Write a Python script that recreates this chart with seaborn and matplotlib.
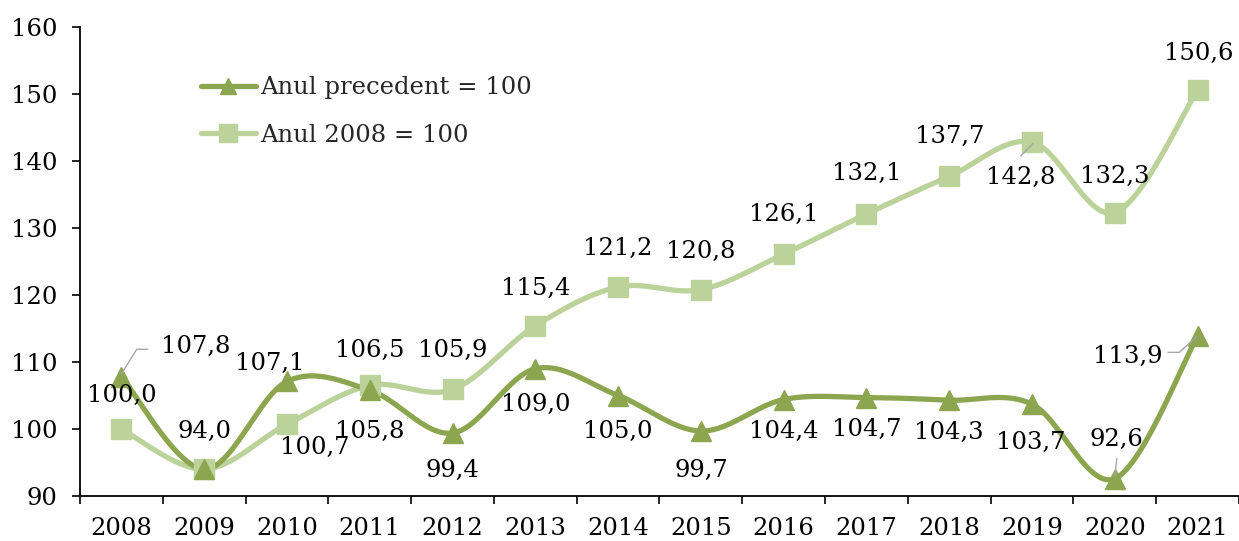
import numpy as np
import pandas as pd
import seaborn as sns
import matplotlib
matplotlib.use('Agg')
import matplotlib.pyplot as plt
from matplotlib.lines import Line2D

years = ["2008", "2009", "2010", "2011", "2012", "2013", "2014",
         "2015", "2016", "2017", "2018", "2019", "2020", "2021"]
prev_year = [107.8, 94.0, 107.1, 105.8, 99.4, 109.0, 105.0,
             99.7, 104.4, 104.7, 104.3, 103.7, 92.6, 113.9]
base_2008 = [100.0, 94.0, 100.7, 106.5, 105.9, 115.4, 121.2,
             120.8, 126.1, 132.1, 137.7, 142.8, 132.3, 150.6]
series_names = ["Anul precedent = 100", "Anul 2008 = 100"]

# label offsets in pixels (dx, dy) relative to the point
prev_offsets = [(74, 30), (0, 38), (-17, 18), (0, -41), (0, -37), (0, -36), (0, -36),
                (0, -39), (0, -32), (0, -32), (0, -32), (-1, -38), (2, 39), (-70, -21)]
base_offsets = [(0, 34), None, (28, -23), (0, 35), (0, 39), (0, 37), (0, 38),
                (0, 38), (0, 40), (0, 40), (0, 40), (-11, -35), (0, 36), (1, 37)]
prev_leaders = {0: [(0, 3), (15, 30), (26, 30)], 12: [(0, 3), (2, 22)],
                13: [(-1, -1), (-18, -18), (-29, -18)]}
base_leaders = {11: [(1, -1), (-11, -15)]}

dark = "#8CA650"
light = "#BBD29A"

sns.set_theme(style="white")
plt.rcParams['font.family'] = ['DejaVu Serif']


def smooth(y, n=30):
    # Excel-like bezier smoothing
    x = np.arange(len(y), dtype=float)
    pts = np.column_stack([x, np.asarray(y, dtype=float)])
    p = np.vstack([pts[0], pts, pts[-1]])
    out = []
    t = np.linspace(0, 1, n)[:, None]
    for i in range(1, len(p) - 2):
        p0, p3 = p[i], p[i + 1]
        p1 = p0 + (p[i + 1] - p[i - 1]) / 6
        p2 = p3 - (p[i + 2] - p[i]) / 6
        seg = ((1 - t) ** 3) * p0 + 3 * ((1 - t) ** 2) * t * p1 + 3 * (1 - t) * t ** 2 * p2 + t ** 3 * p3
        out.append(seg)
    out = np.vstack(out)
    return out[:, 0], out[:, 1]


fig = plt.figure(figsize=(12.39, 5.41), dpi=100)
ax = fig.add_axes([80 / 1239, 45 / 541, 1159 / 1239, 469 / 541])

xs = np.arange(len(years))
for vals, color, marker, ms in [(base_2008, light, "s", 15), (prev_year, dark, "^", 14)]:
    sx, sy = smooth(vals)
    sm = pd.DataFrame({"x": sx, "y": sy})
    sns.lineplot(data=sm, x="x", y="y", sort=False, color=color, lw=3.8, ax=ax, zorder=2)
    ax.plot(xs, vals, ls="none", marker=marker, ms=ms, color=color, mec=color, zorder=3)

# data labels
for vals, offs, leaders in [(prev_year, prev_offsets, prev_leaders), (base_2008, base_offsets, base_leaders)]:
    for i, v in enumerate(vals):
        if offs[i] is None:
            continue
        ax.annotate(f"{v:.1f}".replace(".", ","), (i, v), xytext=offs[i],
                    textcoords="offset pixels", ha="center", va="center",
                    fontsize=17.5, color="black", zorder=5)
        if i in leaders:
            pts = leaders[i]
            x0, y0 = ax.transData.transform((i, v))
            px = [x0 + dx for dx, dy in pts]
            py = [y0 + dy for dx, dy in pts]
            dpts = ax.transData.inverted().transform(np.column_stack([px, py]))
            ax.plot(dpts[:, 0], dpts[:, 1], color="#A6A6A6", lw=1.0, zorder=4)

ax.set_xlim(-0.5, 13.4)
ax.set_ylim(90, 160)
ax.set_yticks(range(90, 161, 10))
ax.set_xticks(xs)
ax.set_xticklabels(years)
ax.set_xticks(np.arange(-0.5, 13.6, 1), minor=True)
ax.tick_params(axis="x", which="major", length=0, pad=15, labelsize=17.5, colors="black")
ax.tick_params(axis="x", which="minor", length=5.5, width=1.2, color="black", direction="out", bottom=True)
ax.tick_params(axis="y", length=5.5, width=1.2, color="black", direction="out", left=True, pad=11,
               labelsize=17.5, labelcolor="black")
ax.set_xlabel("")
ax.set_ylabel("")
for s in ["top", "right"]:
    ax.spines[s].set_visible(False)
for s in ["left", "bottom"]:
    ax.spines[s].set_color("black")
    ax.spines[s].set_linewidth(1.3)

handles = [Line2D([], [], color=dark, lw=3.8, marker="^", ms=12),
           Line2D([], [], color=light, lw=3.8, marker="s", ms=13)]
ax.legend(handles, series_names, loc="upper left", bbox_to_anchor=(0.104, 0.895),
          frameon=False, fontsize=17.5, handlelength=2.3, handletextpad=0.15,
          labelspacing=1.0, borderpad=0, borderaxespad=0)

fig.savefig("out.png", dpi=100)
